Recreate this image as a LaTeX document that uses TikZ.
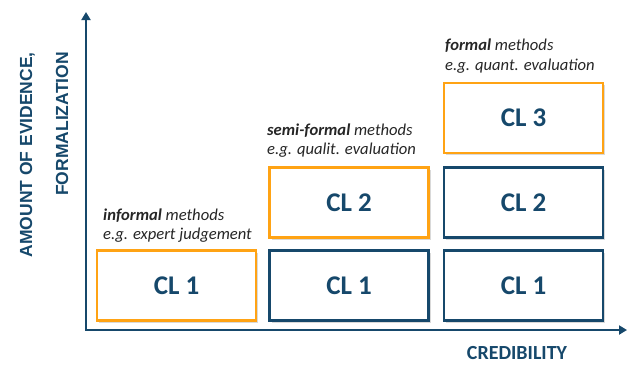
\documentclass[tikz,border=0pt]{standalone}
\usepackage{fontspec}
\setmainfont{Carlito}
\newfontfamily\arialbold{Liberation Sans}[BoldFont={* Bold}]
\usetikzlibrary{arrows.meta,shadows}
\definecolor{dkblue}{RGB}{22,72,107}
\definecolor{orng}{RGB}{255,163,20}
\tikzset{
  clbox/.style={draw, line width=2.8pt, fill=white, minimum width=159pt, minimum height=70pt,
    inner sep=0pt, font=\fontsize{27}{30}\selectfont\bfseries, text=dkblue,
    drop shadow={opacity=0.3, shadow xshift=2pt, shadow yshift=-2pt}},
  obox/.style={clbox, draw=orng},
  bbox/.style={clbox, draw=dkblue},
  meth/.style={anchor=base west, inner sep=0pt, font=\fontsize{16.6}{20}\selectfont\itshape, text=black!85},
  axlab/.style={font=\fontsize{20}{24}\selectfont\bfseries, text=dkblue, inner sep=0pt},
  ylab/.style={font=\arialbold\fontsize{17.5}{20}\selectfont\bfseries, text=dkblue, inner sep=0pt,
    rotate=90, anchor=base east},
  axis/.style={draw=dkblue, line width=2.8pt, {Triangle[length=8pt,width=9pt]}-{Triangle[length=8pt,width=9pt]}}
}
\begin{document}
\begin{tikzpicture}[x=1pt,y=-1pt]
\useasboundingbox (0,0) rectangle (628,365);
\coordinate (ytip) at (86,12);
\coordinate (xtip) at (627,330);
\draw[axis] (ytip) |- (xtip);

\node[obox] (a1) at (176.5,285.5) {CL 1};
\node[bbox] (b1) at (349,285.5) {CL 1};
\node[obox] (b2) at (349,202.5) {CL 2};
\node[bbox] (c1) at (523.5,285.5) {CL 1};
\node[bbox] (c2) at (523.5,202.5) {CL 2};
\node[obox] (c3) at (523.5,118) {CL 3};

\node[meth] (ta1) at (103,220) {\textbf{informal} methods};
\node[meth] (ta2) at (103,239) {e.g. expert judgement};
\node[meth] (tb1) at (267,135) {\textbf{semi-formal} methods};
\node[meth] (tb2) at (267,154) {e.g. qualit. evaluation};
\node[meth] (tc1) at (445,50) {\textbf{formal} methods};
\node[meth] (tc2) at (445,70) {e.g. quant. evaluation};

\node[axlab, anchor=base] (xl) at (517,359) {CREDIBILITY};
\node[ylab] (yl1) at (32,52) {AMOUNT OF EVIDENCE,};
\node[ylab] (yl2) at (68,52) {FORMALIZATION};
\end{tikzpicture}
\end{document}
